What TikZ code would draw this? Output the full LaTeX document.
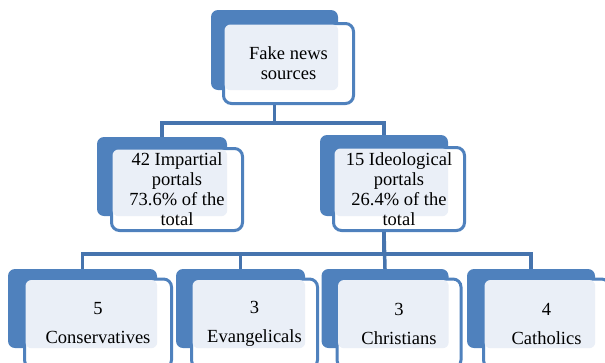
\documentclass[tikz,border=0pt]{standalone}
\usepackage{fontspec}
\setmainfont{Liberation Serif}
\definecolor{boxblue}{HTML}{4F81BD}
\definecolor{lineblue}{HTML}{4674AE}
\definecolor{paleblue}{HTML}{EAEFF7}
\tikzset{
  back/.style={shape=rectangle, fill=boxblue, rounded corners=7pt, inner sep=0pt},
  front/.style={shape=rectangle, draw=boxblue, fill=white, line width=3pt, rounded corners=8pt, inner sep=0pt},
  tint/.style={fill=paleblue, rounded corners=6pt},
  txt/.style={align=center, inner sep=0pt, font=\rmfamily\fontsize{18.5}{20}\selectfont},
  link/.style={draw=lineblue, line width=3.5pt}
}

\begin{document}
\begin{tikzpicture}[x=1pt,y=-1pt]
    \useasboundingbox (0,0) rectangle (605,362);
    \clip (0,0) rectangle (605,362);
    % top
    \node[back,minimum width=127,minimum height=80] (topb) at (274.5,50) {};
    \node[front,minimum width=130,minimum height=80] (topf) at (288.5,63.5) {};
    \fill[tint] ([shift={(2.5,2.5)}]topf.north west) rectangle (topb.south east);
    \node[txt] (topt) at (topf) {Fake news\\sources};
    % second row
    \node[back,minimum width=130,minimum height=79] (leftb) at (162,176.5) {};
    \node[front,minimum width=131,minimum height=82] (leftf) at (177,189.5) {};
    \fill[tint] ([shift={(2.5,2.5)}]leftf.north west) rectangle (leftb.south east);
    \node[txt] (leftt) at (leftf) {42 Impartial\\portals\\73.6\% of the\\total};
    \node[back,minimum width=128,minimum height=81] (rightb) at (384,175.5) {};
    \node[front,minimum width=131,minimum height=83] (rightf) at (399,189) {};
    \fill[tint] ([shift={(2.5,2.5)}]rightf.north west) rectangle (rightb.south east);
    \node[txt] (rightt) at (rightf) {15 Ideological\\portals\\26.4\% of the\\total};
    % bottom row
    \node[back,minimum width=149,minimum height=79] (consb) at (82.5,308.5) {};
    \node[front,minimum width=147,minimum height=89] (consf) at (98,323.5) {};
    \fill[tint] ([shift={(2.5,2.5)}]consf.north west) rectangle (consb.south east);
    \node[txt] (const) at (consf) {5\\[9pt]Conservatives};
    \node[back,minimum width=129,minimum height=79] (evanb) at (240.5,308.5) {};
    \node[front,minimum width=126,minimum height=89] (evanf) at (254.5,323.5) {};
    \fill[tint] ([shift={(2.5,2.5)}]evanf.north west) rectangle (evanb.south east);
    \node[txt] (evant) at (evanf) {3\\[9pt]Evangelicals};
    \node[back,minimum width=127,minimum height=79] (chrib) at (385,308.5) {};
    \node[front,minimum width=124,minimum height=89] (chrif) at (399,323.5) {};
    \fill[tint] ([shift={(2.5,2.5)}]chrif.north west) rectangle (chrib.south east);
    \node[txt] (chrit) at (chrif) {3\\[9pt]Christians};
    \node[back,minimum width=128,minimum height=79] (cathb) at (531,308.5) {};
    \node[front,minimum width=126,minimum height=89] (cathf) at (546.5,323.5) {};
    \fill[tint] ([shift={(2.5,2.5)}]cathf.north west) rectangle (cathb.south east);
    \node[txt] (catht) at (cathf) {4\\[9pt]Catholics};
    % links
    \draw[link] (topb |- topf.south) -- ++(0,18) -| (leftb.north);
    \draw[link] (topb |- topf.south) -- ++(0,18) -| (rightb.north);
    \draw[link] (rightb |- rightf.south) -- ++(0,22) -| (consb.north);
    \draw[link] (rightb |- rightf.south) -- ++(0,22) -| (evanb.north);
    \draw[link] (rightb |- rightf.south) -- (chrib.north);
    \draw[link] (rightb |- rightf.south) -- ++(0,22) -| (cathb.north);
\end{tikzpicture}
\end{document}
